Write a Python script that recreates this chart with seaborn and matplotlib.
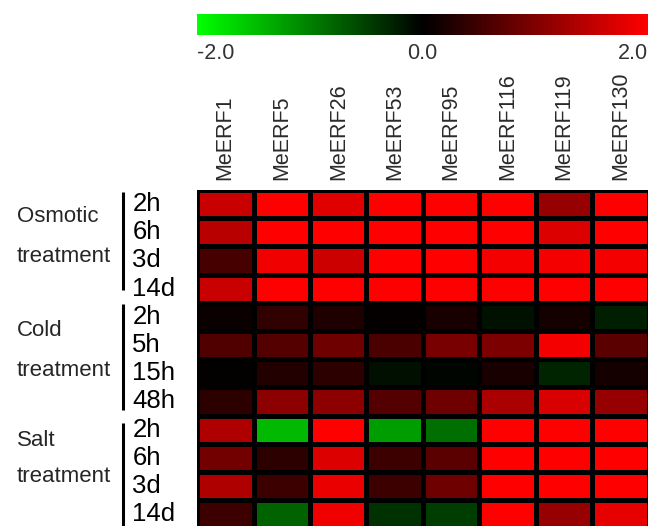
import numpy as np
import pandas as pd
import matplotlib
matplotlib.use("Agg")
import matplotlib.pyplot as plt
from matplotlib.colors import LinearSegmentedColormap
from matplotlib.transforms import blended_transform_factory
import seaborn as sns

genes = ["MeERF1", "MeERF5", "MeERF26", "MeERF53", "MeERF95", "MeERF116", "MeERF119", "MeERF130"]
time_labels = ["2h", "6h", "3d", "14d", "2h", "5h", "15h", "48h", "2h", "6h", "3d", "14d"]
groups = ["Osmotic\ntreatment", "Cold\ntreatment", "Salt\ntreatment"]

osmotic = [
    [1.57, 2.0, 1.76, 2.0, 2.0, 2.0, 1.18, 2.0],
    [1.45, 2.0, 2.0, 2.0, 2.0, 2.0, 1.73, 2.0],
    [0.55, 1.88, 1.60, 2.0, 2.0, 1.92, 1.92, 1.92],
    [1.57, 2.0, 2.0, 2.0, 2.0, 1.97, 2.0, 2.0],
]
cold = [
    [0.09, 0.39, 0.24, 0.04, 0.20, -0.14, 0.16, -0.24],
    [0.63, 0.67, 0.86, 0.59, 0.94, 0.98, 1.92, 0.71],
    [0.02, 0.27, 0.35, -0.12, -0.04, 0.20, -0.27, 0.16],
    [0.35, 1.10, 1.10, 0.67, 0.86, 1.33, 1.69, 1.18],
]
salt = [
    [1.37, -1.45, 2.0, -1.22, -0.86, 2.0, 2.0, 2.0],
    [0.90, 0.35, 1.73, 0.47, 0.71, 2.0, 2.0, 2.0],
    [1.37, 0.47, 1.84, 0.47, 0.86, 2.0, 2.0, 2.0],
    [0.47, -0.78, 1.88, -0.39, -0.47, 2.0, 1.18, 1.80],
]

data = pd.DataFrame(osmotic + cold + salt, columns=genes)

FONT = ["Liberation Sans", "DejaVu Sans"]
sns.set_theme(style="white")
plt.rcParams["font.family"] = FONT

W, H = 648, 526
fig = plt.figure(figsize=(W / 100, H / 100), dpi=100)

hm_left, hm_top, hm_w = 197, 190, 452
row_h = 28.2
hm_h = row_h * len(time_labels)
ax = fig.add_axes([hm_left / W, 1 - (hm_top + hm_h) / H, hm_w / W, hm_h / H])
cax = fig.add_axes([197 / W, 1 - 35 / H, 451 / W, 21 / H])

cmap = LinearSegmentedColormap.from_list("gkr", ["#00ff00", "#000000", "#ff0000"])

sns.heatmap(data, ax=ax, cmap=cmap, vmin=-2, vmax=2, linewidths=2.5, linecolor="black",
            cbar_ax=cax, cbar_kws={"orientation": "horizontal", "ticks": [-2, 0, 2]},
            xticklabels=genes, yticklabels=time_labels)

# column labels on top
ax.xaxis.tick_top()
ax.set_xticklabels(genes, rotation=90, fontsize=15.5, color="#2a2a2a", family=FONT)
ax.tick_params(axis="x", length=0, pad=7)

# row labels, left aligned
ax.set_yticklabels(time_labels, rotation=0, fontsize=18.5, color="black", family=FONT)
ax.tick_params(axis="y", length=0, pad=46.5)
for t in ax.get_yticklabels():
    t.set_ha("left")
ax.set_xlabel("")
ax.set_ylabel("")

# colorbar
cb = ax.collections[0].colorbar
cb.outline.set_visible(False)
cax.tick_params(length=0, pad=6, labelsize=15.5, labelcolor="#333333")
cax.set_xticklabels(["-2.0", "0.0", "2.0"], family=FONT)
labs = cax.get_xticklabels()
labs[0].set_ha("left")
labs[-1].set_ha("right")

# group brackets and labels
bracket_spans = [(0.07, 3.55), (4.04, 7.8), (8.26, 12.0)]
bracket_x = (122.7 - hm_left) / hm_w
tr = blended_transform_factory(ax.transAxes, ax.transData)
for (y0, y1) in bracket_spans:
    ax.plot([bracket_x, bracket_x], [y0, y1], color="black", lw=2.2, transform=tr,
            clip_on=False, solid_capstyle="butt")

group_text_y = [(217, 257), (330, 370), (440, 477)]
for g, (ya, yb) in zip(groups, group_text_y):
    first, second = g.split("\n")
    fig.text(17 / W, 1 - ya / H, first, fontsize=16, ha="left", va="center", family=FONT)
    fig.text(17 / W, 1 - yb / H, second, fontsize=16, ha="left", va="center", family=FONT)

fig.savefig("out.png", dpi=100)
